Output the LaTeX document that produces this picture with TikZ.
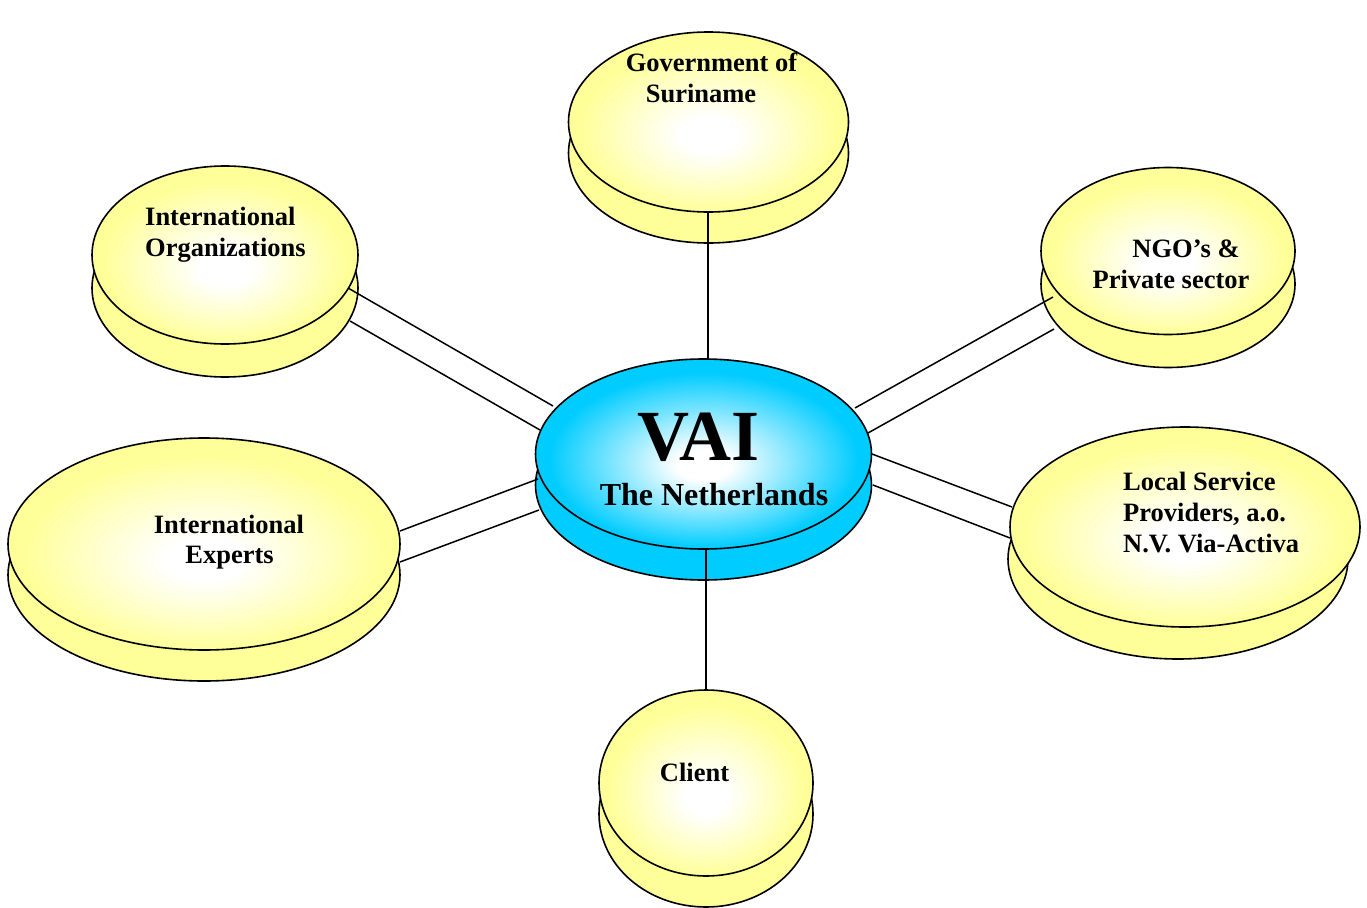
\documentclass[tikz,border=0pt]{standalone}
\usepackage{fontspec}
\setmainfont{Liberation Serif}
\usetikzlibrary{shapes.geometric}
\definecolor{discyellow}{RGB}{255,255,153}
\definecolor{discblue}{RGB}{0,204,255}
\pgfdeclareradialshading{yelshade}{\pgfpoint{0bp}{-4bp}}{color(0bp)=(white); color(5bp)=(white); color(23bp)=(discyellow); color(50bp)=(discyellow)}
\pgfdeclareradialshading{blushade}{\pgfpoint{0bp}{-3bp}}{color(0bp)=(white); color(4bp)=(white); color(23bp)=(discblue); color(50bp)=(discblue)}
\tikzset{
  disc/.style={ellipse, draw=black, line width=1.6pt, inner sep=0pt, outer sep=0pt},
  ybase/.style={disc, fill=discyellow},
  ytop/.style={disc, shading=yelshade},
  bbase/.style={disc, fill=discblue},
  btop/.style={disc, shading=blushade},
  conn/.style={draw=black, line width=1.5pt},
  lbl/.style={anchor=base, inner sep=0pt, font=\bfseries\fontsize{26.5}{31}\selectfont},
}
\begin{document}
\begin{tikzpicture}[x=1pt,y=-1pt]
\useasboundingbox (0,0) rectangle (1367,907);
% Government of Suriname
\node[ybase, minimum width=280pt, minimum height=180pt] (govb) at (708.5,153) {};
\node[ytop,  minimum width=280pt, minimum height=180pt] (gov)  at (708.5,122) {};
% International Organizations
\node[ybase, minimum width=266pt, minimum height=178pt] (orgb) at (225,288) {};
\node[ytop,  minimum width=266pt, minimum height=178pt] (org)  at (225,255) {};
% NGO's
\node[ybase, minimum width=254pt, minimum height=167pt] (ngob) at (1168,284) {};
\node[ytop,  minimum width=254pt, minimum height=167pt] (ngo)  at (1168,251) {};
% International Experts
\node[ybase, minimum width=392pt, minimum height=212pt] (expb) at (204,575) {};
\node[ytop,  minimum width=392pt, minimum height=212pt] (exp)  at (204,544) {};
% Local Service Providers
\node[ybase, minimum width=340pt, minimum height=200pt] (locb) at (1178,559) {};
\node[ytop,  minimum width=350pt, minimum height=200pt] (loc)  at (1185,527) {};
% Client
\node[ybase, minimum width=214pt, minimum height=186pt] (clib) at (706,814) {};
\node[ytop,  minimum width=214pt, minimum height=186pt] (cli)  at (706,783) {};
% VAI
\node[bbase, minimum width=336pt, minimum height=190pt] (vaib) at (703.5,485) {};
\node[btop,  minimum width=336pt, minimum height=190pt] (vai)  at (703.5,454) {};

% connector end points
\coordinate (org1) at (348,288);  \coordinate (vaio1) at (553,406);
\coordinate (org2) at (350,321);  \coordinate (vaio2) at (540,430);
\coordinate (ngo1) at (1053,297); \coordinate (vain1) at (855,408);
\coordinate (ngo2) at (1054,329); \coordinate (vain2) at (868,433);
\coordinate (exp1) at (400,531);  \coordinate (vaie1) at (538,479);
\coordinate (exp2) at (400,562);  \coordinate (vaie2) at (539,510);
\coordinate (loc1) at (1012,507); \coordinate (vail1) at (872,454);
\coordinate (loc2) at (1010,538); \coordinate (vail2) at (873,485);

% connectors
\draw[conn] (gov.south -| 708,0) -- (708,359);
\draw[conn] (cli.north) -- (cli.north |- vai.south);
\draw[conn] (org1) -- (vaio1);
\draw[conn] (org2) -- (vaio2);
\draw[conn] (ngo1) -- (vain1);
\draw[conn] (ngo2) -- (vain2);
\draw[conn] (exp1) -- (vaie1);
\draw[conn] (exp2) -- (vaie2);
\draw[conn] (loc1) -- (vail1);
\draw[conn] (loc2) -- (vail2);

% labels
\node[lbl] (govt1) at (711.5,71) {Government of};
\node[lbl] (govt2) at (701,102) {Suriname};
\node[lbl, anchor=base west] (orgt1) at (145,225) {International};
\node[lbl, anchor=base west] (orgt2) at (145,256) {Organizations};
\node[lbl] (ngot1) at (1186,257) {NGO’s \&};
\node[lbl] (ngot2) at (1171,288) {Private sector};
\node[lbl, anchor=base west] (loct1) at (1123,490) {Local Service};
\node[lbl, anchor=base west] (loct2) at (1123,521) {Providers, a.o.};
\node[lbl, anchor=base west] (loct3) at (1123,552) {N.V. Via-Activa};
\node[lbl] (expt1) at (229,533) {International};
\node[lbl] (expt2) at (229.5,563) {Experts};
\node[lbl] (clit) at (694.5,781) {Client};
\node[anchor=base, inner sep=0pt, font=\bfseries\fontsize{72}{74}\selectfont] (vait1) at (698.5,460) {VAI};
\node[anchor=base, inner sep=0pt, font=\bfseries\fontsize{32}{36}\selectfont] (vait2) at (714,505) {The Netherlands};
\end{tikzpicture}
\end{document}
